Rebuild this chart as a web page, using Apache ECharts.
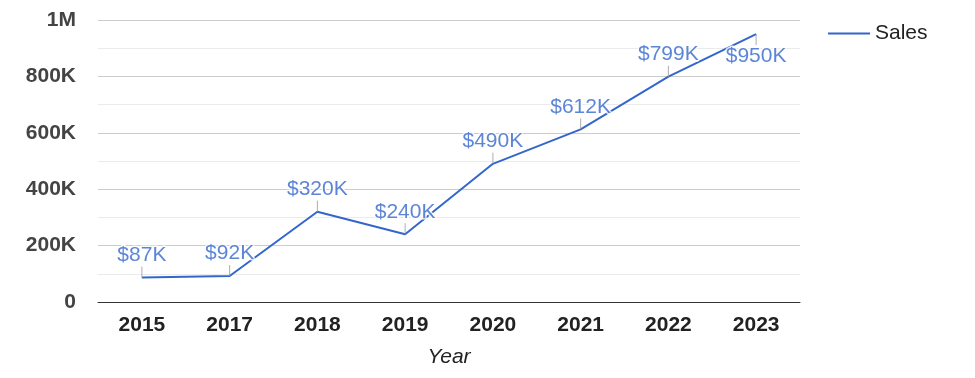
<!DOCTYPE html>
<html>
<head>
<meta charset="utf-8">
<script src="https://cdn.jsdelivr.net/npm/echarts@6/dist/echarts.min.js"></script>
<style>
html,body{margin:0;padding:0;background:#fff;}
#chart{width:975px;height:378px;}
</style>
</head>
<body>
<div id="chart"></div>
<script>
const years = ['2015','2017','2018','2019','2020','2021','2022','2023'];
const sales = [87000, 92000, 320000, 240000, 490000, 612000, 799000, 950000];
const yTicks = [0, 200000, 400000, 600000, 800000, 1000000];
const yTickLabels = ['0','200K','400K','600K','800K','1M'];
const labelBelow = [false,false,false,false,false,false,false,true];

const FONT = '"Liberation Sans", Arial, sans-serif';
const BLUE = '#3366cc';

const chart = echarts.init(document.getElementById('chart'));

const stemData = sales.map((v, i) => ({
  value: v,
  symbolOffset: [0, labelBelow[i] ? 5.5 : -5.5],
  label: { position: labelBelow[i] ? 'bottom' : 'top' }
}));

chart.setOption({
  animation: false,
  textStyle: { fontFamily: FONT },
  grid: { left: 98, right: 175, top: 20, bottom: 76, outerBoundsMode: 'none', containLabel: false },
  legend: {
    data: ['Sales'],
    left: 823, top: 18,
    itemWidth: 42, itemHeight: 2, itemGap: 10,
    icon: 'rect',
    textStyle: { fontSize: 21, color: '#222', fontFamily: FONT }
  },
  xAxis: {
    type: 'category',
    data: years,
    boundaryGap: true,
    axisLine: { lineStyle: { color: '#333', width: 1 } },
    axisTick: { show: false },
    axisLabel: { fontSize: 21, fontWeight: 'bold', color: '#222', margin: 13, fontFamily: FONT },
    name: 'Year',
    nameLocation: 'middle',
    nameGap: 45,
    nameTextStyle: { fontSize: 21, fontStyle: 'italic', color: '#222', fontFamily: FONT }
  },
  yAxis: {
    type: 'value',
    min: 0, max: 1000000, interval: 200000,
    axisLine: { show: false },
    axisTick: { show: false },
    axisLabel: {
      fontSize: 21, fontWeight: 'bold', color: '#444', margin: 22, fontFamily: FONT,
      formatter: v => yTickLabels[yTicks.indexOf(v)]
    },
    splitLine: { lineStyle: { color: '#cccccc', width: 1 } },
    minorTick: { show: false, splitNumber: 2 },
    minorSplitLine: { show: true, lineStyle: { color: '#ebebeb', width: 1 } }
  },
  series: [
    {
      name: 'Sales',
      type: 'line',
      data: sales,
      symbol: 'none',
      lineStyle: { color: BLUE, width: 2 },
      itemStyle: { color: BLUE },
      z: 2
    },
    {
      name: 'stems',
      type: 'scatter',
      data: stemData,
      symbol: 'rect',
      symbolSize: [1, 11],
      itemStyle: { color: '#999999' },
      z: 3,
      label: {
        show: true,
        distance: 1,
        fontSize: 21,
        color: BLUE,
        fontFamily: FONT,
        textBorderColor: '#fff',
        textBorderWidth: 3,
        formatter: p => '$' + Math.round(p.value / 1000) + 'K'
      }
    }
  ]
});
</script>
</body>
</html>
